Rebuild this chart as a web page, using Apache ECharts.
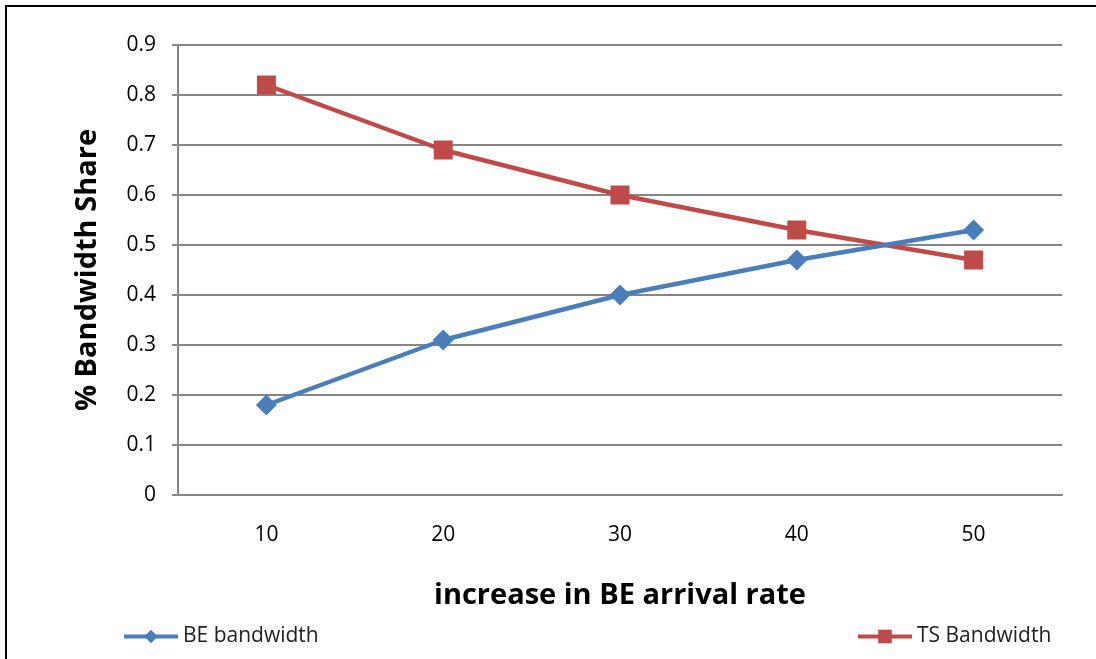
<!DOCTYPE html>
<html><head><meta charset="utf-8">
<script src="https://cdn.jsdelivr.net/npm/echarts@6/dist/echarts.min.js"></script>
<style>html,body{margin:0;padding:0;background:#fff}#c{width:1096px;height:659px}</style>
</head><body><div id="c"></div>
<script>
const categories = ['10','20','30','40','50'];
const beBandwidth = [0.18, 0.31, 0.40, 0.47, 0.53];
const tsBandwidth = [0.82, 0.69, 0.60, 0.53, 0.47];
const seriesNames = ['BE bandwidth', 'TS Bandwidth'];
const FONT = '"Open Sans", "Liberation Sans", sans-serif';
const chart = echarts.init(document.getElementById('c'));
chart.setOption({
  animation: false,
  backgroundColor: '#fff',
  graphic: [
    {type:'line', shape:{x1:5,y1:6,x2:1096,y2:6}, style:{stroke:'#000',lineWidth:2}},
    {type:'line', shape:{x1:6,y1:5,x2:6,y2:659}, style:{stroke:'#000',lineWidth:2}}
  ],
  grid: {left:178, right:34, top:45, bottom:164},
  legend: [
    {data:[seriesNames[0]], left:117, top:621, itemWidth:54, itemHeight:17, itemGap:4,
     lineStyle:{width:4}, textStyle:{fontFamily:FONT, fontSize:21, color:'#222'}},
    {data:[seriesNames[1]], left:851, top:621, itemWidth:54, itemHeight:17, itemGap:4,
     lineStyle:{width:4}, textStyle:{fontFamily:FONT, fontSize:21, color:'#222'}}
  ],
  xAxis: {
    type:'category', data:categories, boundaryGap:true,
    name:'increase in BE arrival rate', nameLocation:'middle', nameGap:86,
    nameTextStyle:{fontFamily:FONT, fontSize:29, fontWeight:'bold', color:'#000'},
    axisLine:{lineStyle:{color:'#868686', width:2}},
    axisTick:{show:false},
    axisLabel:{fontFamily:FONT, fontSize:21, color:'#000', margin:30}
  },
  yAxis: {
    type:'value', min:0, max:0.9, interval:0.1,
    name:'% Bandwidth Share', nameLocation:'middle', nameGap:76,
    nameTextStyle:{fontFamily:FONT, fontSize:29, fontWeight:'bold', color:'#000'},
    axisLine:{show:true, lineStyle:{color:'#868686', width:2}},
    axisTick:{show:true, length:6, lineStyle:{color:'#868686', width:2}},
    axisLabel:{fontFamily:FONT, fontSize:21, color:'#000', margin:22,
      formatter: v => (Math.round(v*10)/10).toString()},
    splitLine:{lineStyle:{color:'#868686', width:2}}
  },
  series: [
    {name:seriesNames[0], type:'line', data:beBandwidth, symbol:'diamond', symbolSize:21,
     lineStyle:{color:'#4A7EBB', width:4.5}, itemStyle:{color:'#4A7EBB'}, z:3},
    {name:seriesNames[1], type:'line', data:tsBandwidth, symbol:'rect', symbolSize:19,
     lineStyle:{color:'#BE4B48', width:4.5}, itemStyle:{color:'#BE4B48'}, z:2}
  ]
});
</script></body></html>
